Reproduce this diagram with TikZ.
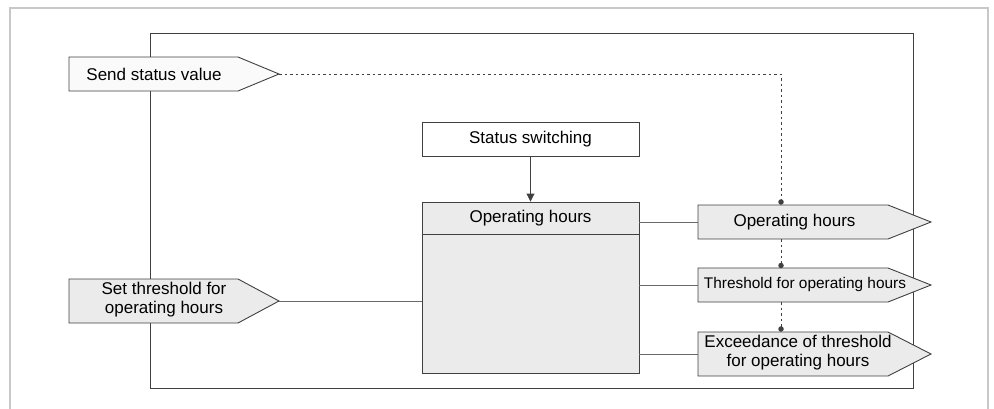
\documentclass[tikz,border=0pt]{standalone}
\usepackage{fontspec}
\setmainfont{Liberation Sans}
\usetikzlibrary{arrows.meta,calc}

\definecolor{framegray}{HTML}{C8C8C8}
\definecolor{boxline}{HTML}{404040}
\definecolor{boxfill}{HTML}{EBEBEB}
\definecolor{lightfill}{HTML}{FAFAFA}
\definecolor{wiregray}{HTML}{6A6A6A}

\tikzset{
  shapebox/.style={draw=none, inner sep=0pt, outer sep=0pt},
  tagline/.style={draw=boxline, line width=0.9pt, line join=miter},
  txt/.style={inner sep=0pt, align=center, font=\fontsize{17}{19}\selectfont},
  smalltxt/.style={inner sep=0pt, align=center, font=\fontsize{15.4}{18}\selectfont},
  wire/.style={draw=wiregray, line width=0.9pt},
  dotwire/.style={draw=boxline, line width=0.9pt, dash pattern=on 2.5pt off 3pt},
  joint/.style={circle, fill=boxline, inner sep=0pt, minimum size=5.5pt},
}

\begin{document}
\begin{tikzpicture}[x=1pt, y=-1pt]
  \useasboundingbox (0,0) rectangle (994,408);
  \clip (0,0) rectangle (994,408);

  % outer light frame (open at the bottom)
  \draw[framegray, line width=2pt] (10,420) -- (10,8) -- (988,8) -- (988,420);

  % device boundary
  \draw[draw=boxline, line width=0.9pt] (150,33) rectangle (913,388);

  % ---------- inputs on the left ----------
  \node[shapebox, minimum width=169pt, minimum height=34pt] (send) at (153.5,74) {};
  \coordinate (send-tip) at ($(send.east)+(41,0)$);
  \draw[tagline, fill=lightfill] (send.north west) -- (send.north east) -- (send-tip)
        -- (send.south east) -- (send.south west) -- cycle;
  \node[txt] (send-txt) at (154,74) {Send status value};

  \node[shapebox, minimum width=169pt, minimum height=44pt] (setthr) at (153.5,301) {};
  \coordinate (setthr-tip) at ($(setthr.east)+(41,0)$);
  \draw[tagline, fill=boxfill] (setthr.north west) -- (setthr.north east) -- (setthr-tip)
        -- (setthr.south east) -- (setthr.south west) -- cycle;
  \node[txt] (setthr-txt) at (164,300) {Set threshold for\\operating hours};

  % ---------- central function block ----------
  \node[draw=boxline, line width=0.9pt, fill=white, minimum width=217pt, minimum height=34pt,
        inner sep=0pt, txt] (status) at (530.5,139) {Status switching};

  \node[draw=boxline, line width=0.9pt, fill=boxfill, minimum width=217pt, minimum height=171pt,
        inner sep=0pt] (main) at (530.5,287.5) {};
  \coordinate (main-div-l) at ($(main.north west)+(0,33)$);
  \coordinate (main-div-r) at ($(main.north east)+(0,33)$);
  \draw[boxline, line width=0.9pt] (main-div-l) -- (main-div-r);
  \node[txt] (main-title) at (530.5,218.5) {Operating hours};

  \draw[boxline, line width=0.9pt, -{Triangle[width=8pt,length=8pt]}] (status.south) -- (main.north);

  % ---------- outputs on the right ----------
  \node[shapebox, minimum width=190pt, minimum height=34pt] (opout) at (793,222) {};
  \coordinate (opout-tip) at ($(opout.east)+(43,0)$);
  \draw[tagline, fill=boxfill] (opout.north west) -- (opout.north east) -- (opout-tip)
        -- (opout.south east) -- (opout.south west) -- cycle;
  \node[txt] (opout-txt) at (794.5,222) {Operating hours};

  \node[shapebox, minimum width=190pt, minimum height=34pt] (throut) at (793,285) {};
  \coordinate (throut-tip) at ($(throut.east)+(43,0)$);
  \draw[tagline, fill=boxfill] (throut.north west) -- (throut.north east) -- (throut-tip)
        -- (throut.south east) -- (throut.south west) -- cycle;
  \node[smalltxt] (throut-txt) at (805,285) {Threshold for operating hours};

  \node[shapebox, minimum width=190pt, minimum height=44pt] (excout) at (793,354) {};
  \coordinate (excout-tip) at ($(excout.east)+(43,0)$);
  \draw[tagline, fill=boxfill] (excout.north west) -- (excout.north east) -- (excout-tip)
        -- (excout.south east) -- (excout.south west) -- cycle;
  \node[txt] (excout-txt) at (798,353) {Exceedance of threshold\\for operating hours};

  % ---------- connections ----------
  \draw[wire] (setthr-tip) -- (setthr-tip -| main.west);
  \draw[wire] (opout.west -| main.east) -- (opout.west);
  \draw[wire] (throut.west -| main.east) -- (throut.west);
  \draw[wire] (excout.west -| main.east) -- (excout.west);

  % status value link (dotted)
  \coordinate (j1) at (781,202);
  \coordinate (j2) at (781,265.5);
  \coordinate (j3) at (781,329);
  \draw[dotwire] (send-tip) -- (send-tip -| j1) -- (j1);
  \draw[dotwire] (j1 |- opout.south) -- (j2);
  \draw[dotwire] (j1 |- throut.south) -- (j3);
  \node[joint] (j1dot) at (j1) {};
  \node[joint] (j2dot) at (j2) {};
  \node[joint] (j3dot) at (j3) {};
\end{tikzpicture}
\end{document}
